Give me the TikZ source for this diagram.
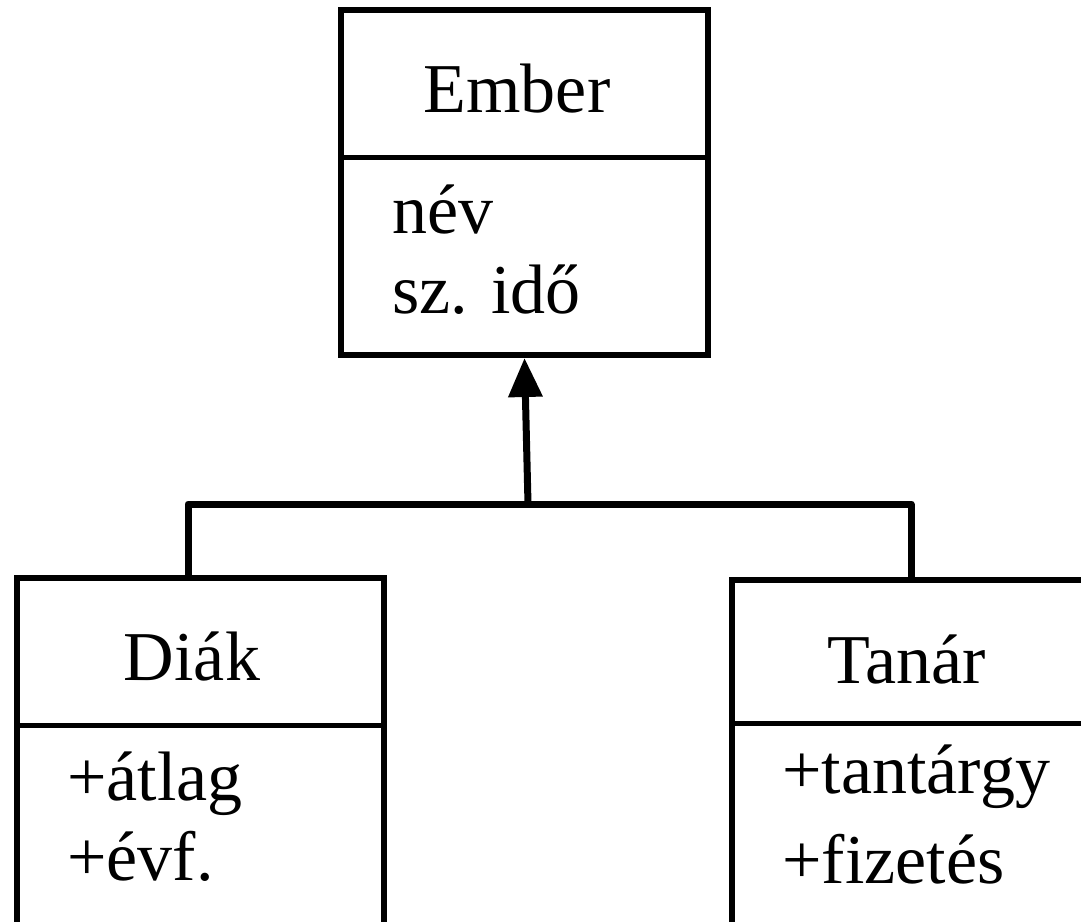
\documentclass[tikz,border=0pt]{standalone}
\usepackage{fontspec}
\setmainfont{Liberation Serif}
\usetikzlibrary{arrows.meta,positioning}
\tikzset{
  classbox/.style={draw, line width=3pt, minimum width=183.5pt, inner sep=0pt},
  divider/.style={line width=2.5pt},
  member/.style={inner sep=0pt, font=\fontsize{35}{40}\selectfont},
  link/.style={line width=3.5pt, line join=round},
  inherit/.style={link, -{Triangle[length=19.5pt,width=16.5pt]}},
}

\begin{document}
\begin{tikzpicture}[x=0.5pt,y=-0.5pt]
    \clip (0,0) rectangle (1081,921);

    % the three class boxes
    \node[classbox, minimum height=172.5pt] (ember) at (524.5,182.5) {};
    \node[classbox, minimum height=211pt] (diak) at (200.5,789) {};
    \node[classbox, minimum height=211pt] (tanar) at (915.5,791) {};

    % name / attribute compartments
    \draw[divider] (ember.west |- 0,157) -- (ember.east |- 0,157);
    \draw[divider] (diak.west |- 0,725) -- (diak.east |- 0,725);
    \draw[divider] (tanar.west |- 0,723) -- (tanar.east |- 0,723);

    \node[member, anchor=base] (ember-name) at (517,112) {Ember};
    \node[member, anchor=base west] (ember-1) at (392,233) {név};
    \node[member, anchor=base west] (ember-2) at (392,313) {sz. idő};

    \node[member, anchor=base] (diak-name) at (192,680) {Diák};
    \node[member, anchor=base west] (diak-1) at (67,800) {+átlag};
    \node[member, anchor=base west] (diak-2) at (67,880) {+évf.};

    \node[member, anchor=base] (tanar-name) at (907,683) {Tanár};
    \node[member, anchor=base west] (tanar-1) at (782,793) {+tantárgy};
    \node[member, anchor=base west] (tanar-2) at (782,883) {+fizetés};

    % generalisation
    \coordinate (joint) at (528,504);
    \draw[link] ([xshift=-6.25pt]diak.north) |- (joint) -| ([xshift=-2.25pt]tanar.north);
    \draw[inherit] (joint) -- (ember.south);

\end{tikzpicture}
\end{document}
